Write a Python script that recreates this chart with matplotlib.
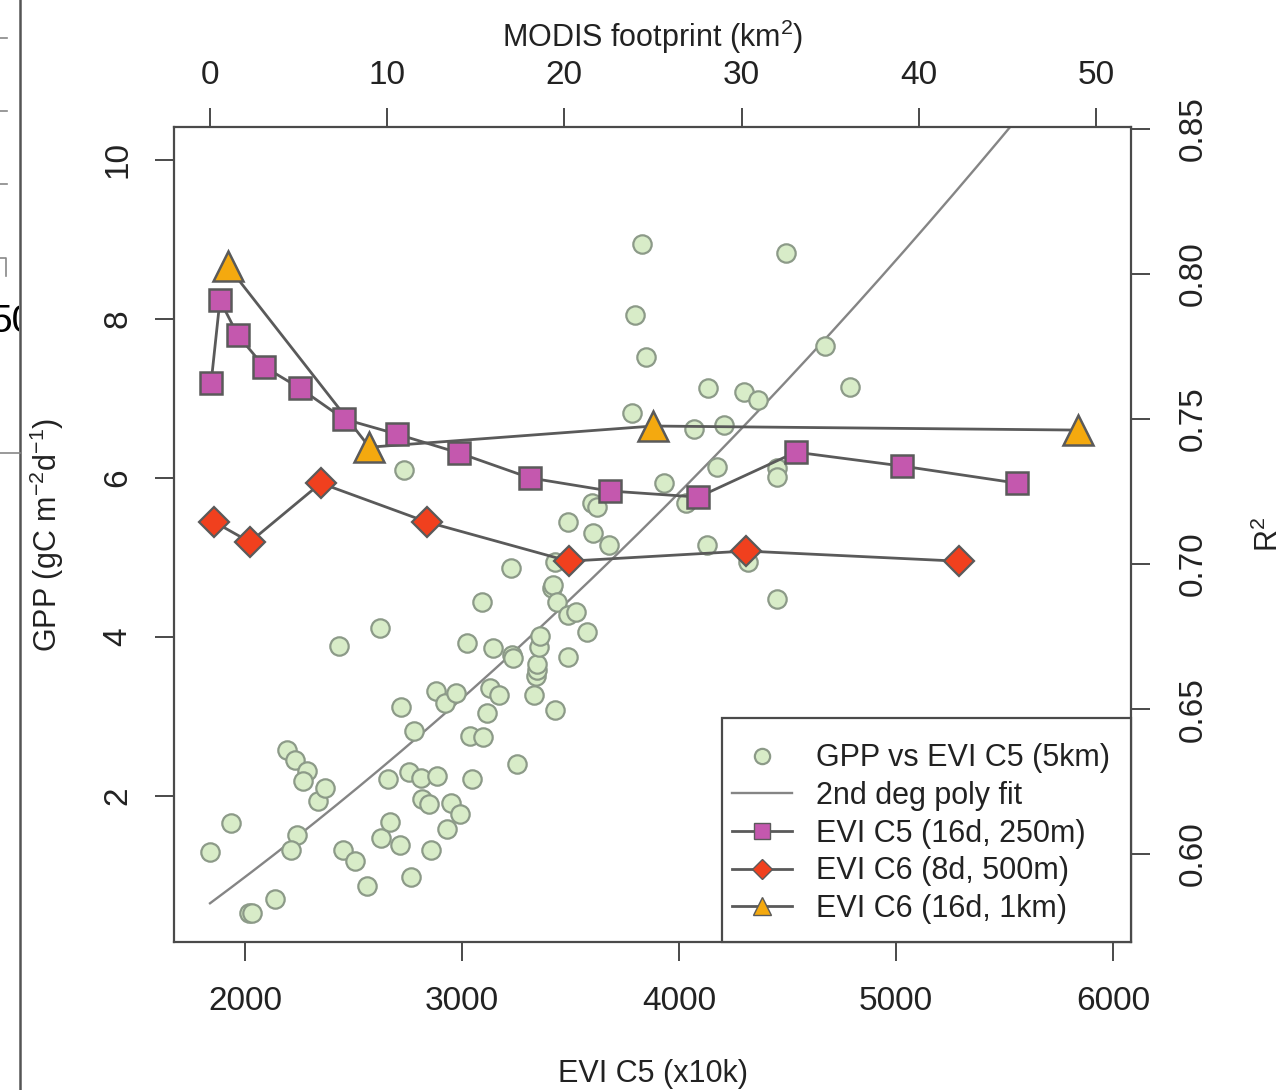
import matplotlib
matplotlib.use('Agg')
import matplotlib.pyplot as plt
from matplotlib.lines import Line2D
from matplotlib.patches import Rectangle
import numpy as np

plt.rcParams['mathtext.fontset'] = 'custom'
plt.rcParams['mathtext.rm'] = 'Liberation Sans'
plt.rcParams['mathtext.it'] = 'Liberation Sans:italic'
plt.rcParams['font.family'] = ['Liberation Sans', 'DejaVu Sans']

# ---------------- data ----------------
# site GPP against EVI C5 (5km)
evi_c5 = [1839, 1935, 2018, 2032, 2138, 2194, 2230, 2286, 2267, 2240, 2212, 2336,
          2369, 2433, 2452, 2507, 2562, 2622, 2627, 2659, 2668, 2714, 2719, 2733,
          2756, 2765, 2779, 2811, 2816, 2848, 2857, 2880, 2885, 2922, 2931, 2949,
          2972, 2991, 3023, 3037, 3046, 3092, 3097, 3115, 3129, 3143, 3170, 3226,
          3230, 3235, 3253, 3332, 3341, 3346, 3346, 3355, 3359, 3415, 3419, 3428,
          3428, 3438, 3488, 3488, 3488, 3525, 3576, 3604, 3599, 3622, 3677, 3783,
          3797, 3829, 3848, 3931, 4032, 4069, 4129, 4134, 4175, 4207, 4300, 4318,
          4364, 4452, 4452, 4452, 4493, 4673, 4788]
gpp = [1.30, 1.66, 0.53, 0.53, 0.70, 2.58, 2.45, 2.31, 2.19, 1.51, 1.32, 1.94,
       2.10, 3.89, 1.32, 1.18, 0.87, 4.11, 1.47, 2.21, 1.67, 1.38, 3.12, 6.10,
       2.30, 0.98, 2.82, 2.23, 1.96, 1.90, 1.32, 3.32, 2.25, 3.17, 1.58, 1.91,
       3.30, 1.77, 3.92, 2.75, 2.21, 4.44, 2.74, 3.04, 3.36, 3.86, 3.27, 4.87,
       3.77, 3.74, 2.40, 3.27, 3.51, 3.58, 3.66, 3.87, 4.01, 4.62, 4.65, 4.94,
       3.08, 4.44, 5.45, 4.28, 3.75, 4.31, 4.06, 5.31, 5.69, 5.64, 5.16, 6.82,
       8.05, 8.94, 7.52, 5.94, 5.69, 6.62, 5.16, 7.13, 6.14, 6.67, 7.08, 4.94,
       6.98, 6.13, 6.01, 4.48, 8.83, 7.66, 7.14]

# 2nd degree polynomial fit, EVI in thousands
fit_coef = [0.1698, 1.3978, -2.4947]

# R2 against MODIS footprint (km2)
foot_c5 = [0.0625, 0.5625, 1.5625, 3.0625, 5.0625, 7.5625, 10.5625, 14.0625,
           18.0625, 22.5625, 27.5625, 33.0625, 39.0625, 45.5625]
r2_c5 = [0.7624, 0.7910, 0.7790, 0.7680, 0.7607, 0.7500, 0.7448, 0.7383,
         0.7297, 0.7252, 0.7231, 0.7386, 0.7338, 0.7279]
foot_c6_500 = [0.25, 2.25, 6.25, 12.25, 20.25, 30.25, 42.25]
r2_c6_500 = [0.7145, 0.7076, 0.7279, 0.7145, 0.7010, 0.7045, 0.7010]
foot_c6_1k = [1, 9, 25, 49]
r2_c6_1k = [0.8028, 0.7403, 0.7476, 0.7462]

labels = ['GPP vs EVI C5 (5km)', '2nd deg poly fit', 'EVI C5 (16d, 250m)',
          'EVI C6 (8d, 500m)', 'EVI C6 (16d, 1km)']

# ---------------- figure ----------------
fig = plt.figure(figsize=(12.86, 10.90), dpi=100)
pos = [174 / 1286, 1 - 942 / 1090, (1131 - 174) / 1286, (942 - 127) / 1090]
ax = fig.add_axes(pos)
ax2 = fig.add_axes(pos, frameon=False)

edge = '#4a4a4a'
line_c = '#5a5a5a'
txt_c = '#222222'

# scatter + fit on bottom/left axes
ax.scatter(evi_c5, gpp, s=175, facecolor='#d8ecc8', edgecolor='#8c9a88',
           linewidth=1.6, zorder=2)
xs = np.linspace(min(evi_c5), 6000, 300)
ax.plot(xs, np.polyval(fit_coef, xs / 1000.0), color='#858585', lw=1.7, zorder=1)

ax.set_xlim(1673, 6083)
ax.set_ylim(0.163, 10.415)
ax.set_xticks([2000, 3000, 4000, 5000, 6000])
ax.set_yticks([2, 4, 6, 8, 10])
ax.tick_params(length=14, width=1.4, color=edge, labelsize=24, labelcolor=txt_c)
ax.tick_params(axis='x', pad=18)
ax.tick_params(axis='y', labelrotation=90, pad=15)
for t in ax.get_yticklabels():
    t.set_va('center')
for s in ax.spines.values():
    s.set_color(edge)
    s.set_linewidth(1.6)
ax.set_xlabel('EVI C5 (x10k)', fontsize=22, color=txt_c)
ax.xaxis.set_label_coords(0.5, -0.144)
ax.set_ylabel('GPP (gC m$^{-2}$d$^{-1}$)', fontsize=22, color=txt_c)
ax.yaxis.set_label_coords(-0.113, 0.5)

# R2 series on top/right axes
ax2.plot(foot_c6_1k, r2_c6_1k, color=line_c, lw=2, marker='^', ms=21,
         mfc='#f4a90f', mec=line_c, mew=1.8, zorder=3)
ax2.plot(foot_c5, r2_c5, color=line_c, lw=2, marker='s', ms=16,
         mfc='#c458ae', mec=line_c, mew=1.8, zorder=4)
ax2.plot(foot_c6_500, r2_c6_500, color=line_c, lw=2, marker='D', ms=15,
         mfc='#f0401e', mec=line_c, mew=1.6, zorder=4)

ax2.set_xlim(-2.03, 51.98)
ax2.set_ylim(0.5697, 0.8507)
ax2.xaxis.tick_top()
ax2.yaxis.tick_right()
ax2.xaxis.set_label_position('top')
ax2.yaxis.set_label_position('right')
ax2.set_xticks([0, 10, 20, 30, 40, 50])
ax2.set_yticks([0.60, 0.65, 0.70, 0.75, 0.80, 0.85])
ax2.set_yticklabels(['0.60', '0.65', '0.70', '0.75', '0.80', '0.85'])
ax2.tick_params(length=14, width=1.4, color=edge, labelsize=24, labelcolor=txt_c)
ax2.tick_params(axis='x', pad=12)
ax2.tick_params(axis='y', labelrotation=90, pad=20)
for t in ax2.get_yticklabels():
    t.set_va('center')
ax2.set_xlabel('MODIS footprint (km$^2$)', fontsize=22, color=txt_c)
ax2.xaxis.set_label_coords(0.5, 1.098)
ax2.set_ylabel('R$^2$', fontsize=22, color=txt_c, rotation=90)
ax2.yaxis.set_label_coords(1.128, 0.5)

# legend box anchored in the lower right corner
ax2.add_patch(Rectangle((0.5726, 0), 1 - 0.5726, 0.2748, transform=ax2.transAxes,
                        facecolor='white', edgecolor=edge, lw=1.6, zorder=6,
                        clip_on=False))
handles = [
    Line2D([], [], ls='none', marker='o', ms=11, mfc='#d8ecc8', mec='#8c9a88', mew=1.6),
    Line2D([], [], color='#858585', lw=1.7),
    Line2D([], [], color=line_c, lw=2, marker='s', ms=11, mfc='#c458ae', mec=line_c),
    Line2D([], [], color=line_c, lw=2, marker='D', ms=10, mfc='#f0401e', mec=line_c),
    Line2D([], [], color=line_c, lw=2, marker='^', ms=13, mfc='#f4a90f', mec=line_c),
]
leg = ax2.legend(handles, labels, loc='center', bbox_to_anchor=(0.781, 0.133),
                 frameon=False, prop={'size': 22}, handlelength=1.95,
                 handletextpad=0.8, labelspacing=0.25, borderpad=0)
leg.set_zorder(7)
for t in leg.get_texts():
    t.set_color(txt_c)

# neighbouring panel edge on the far left
fig.add_artist(Line2D([20 / 1286, 20 / 1286], [0, 1], color='#555555', lw=1.8))
for yy in [38, 111, 184]:
    fig.add_artist(Line2D([0, 7 / 1286], [1 - yy / 1090] * 2, color='#888888', lw=1.2))
fig.add_artist(Line2D([0, 6 / 1286, 6 / 1286], [1 - 258 / 1090, 1 - 258 / 1090, 1 - 276 / 1090],
                      color='#888888', lw=1.2))
fig.add_artist(Line2D([0, 20 / 1286], [1 - 453 / 1090] * 2, color='#888888', lw=1.2))
side = fig.add_axes([0, 0, 19 / 1286, 1])
side.axis('off')
side.set_xlim(0, 19)
side.set_ylim(1090, 0)
side.text(-10, 322, '50', fontsize=28, va='center', ha='left', clip_on=True)

fig.savefig('out.png', dpi=100)
